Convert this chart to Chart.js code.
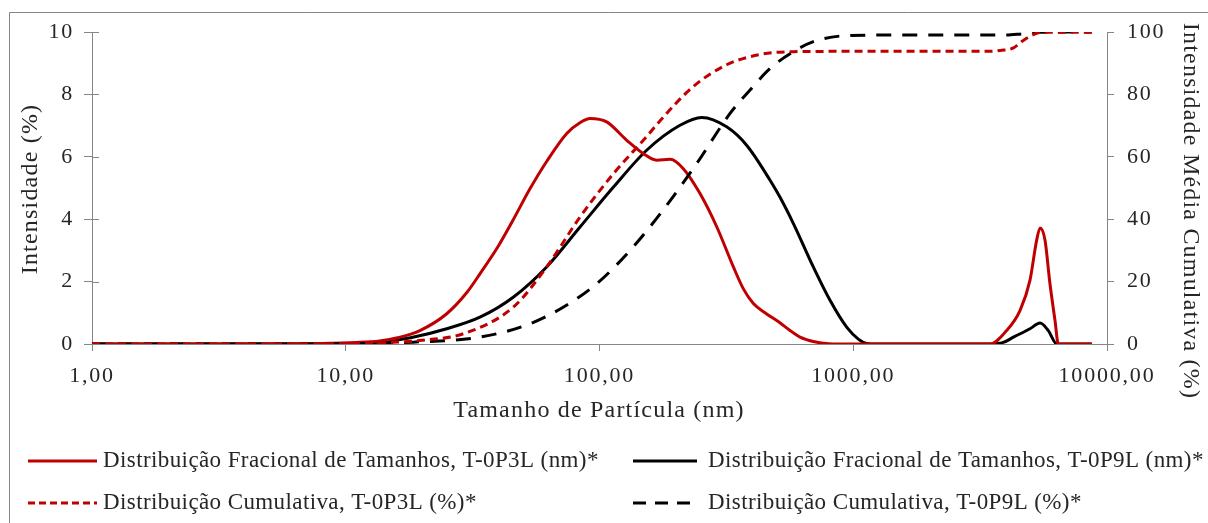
<!DOCTYPE html>
<html>
<head>
<meta charset="utf-8">
<script src="https://cdn.jsdelivr.net/npm/chart.js@4.4.1/dist/chart.umd.min.js"></script>
<style>
  html, body { margin: 0; padding: 0; background: #fff; }
  #wrap { position: relative; width: 1208px; height: 523px; }
  canvas { display: block; }
</style>
</head>
<body>
<div id="wrap"><canvas id="c" width="1208" height="523"></canvas></div>
<script>
// Particle size axis ticks and value axis ticks
const xTickValues = [1, 10, 100, 1000, 10000];
const xTickLabels = ['1,00', '10,00', '100,00', '1000,00', '10000,00'];
const leftTicks = [0, 2, 4, 6, 8, 10];
const rightTicks = [0, 20, 40, 60, 80, 100];

// T-0P3L fractional distribution (%)
const p3lFracSize  = [1, 3, 8, 11, 13.6, 16, 19.6, 25, 30, 33.8, 40, 45.7, 53, 61.9, 74.3, 84, 91.8, 106.7, 128, 149, 168, 190, 214, 249, 290, 337, 370, 404, 453, 514, 560, 617, 696, 800, 1000, 3460, 4020, 4540, 4970, 5280, 5450, 5700, 5960, 6240, 6430, 8710];
const p3lFracValue = [0, 0, 0.02, 0.05, 0.1, 0.2, 0.43, 0.97, 1.65, 2.25, 3.15, 3.98, 4.95, 5.85, 6.75, 7.1, 7.23, 7.12, 6.53, 6.1, 5.89, 5.92, 5.62, 4.82, 3.75, 2.47, 1.75, 1.3, 0.98, 0.68, 0.45, 0.22, 0.08, 0.01, 0, 0, 0.43, 1.07, 2.04, 3.32, 3.72, 3.32, 1.93, 0.75, 0, 0];

// T-0P9L fractional distribution (%)
const p9lFracSize  = [1, 3, 8, 11, 13.6, 18, 25, 33.8, 45.7, 61.9, 83.8, 113.5, 153.4, 207.6, 253, 317, 380, 470, 514, 581, 696, 810, 942, 1050, 1129, 1250, 3460, 3900, 4280, 4970, 5450, 5870, 6340, 8710];
const p9lFracValue = [0, 0, 0.01, 0.02, 0.06, 0.2, 0.49, 0.86, 1.5, 2.47, 3.75, 5.03, 6.21, 7.01, 7.26, 6.96, 6.37, 5.25, 4.71, 3.86, 2.47, 1.4, 0.54, 0.15, 0.02, 0, 0, 0.05, 0.22, 0.49, 0.67, 0.43, 0, 0];

// T-0P3L cumulative distribution (%)
const p3lCumSize  = [1, 5, 10, 15, 20, 29.1, 45.7, 61.9, 83.8, 113.5, 153, 173, 234, 317, 430, 581, 1000, 3460, 3800, 4280, 4600, 5280, 5700, 8710];
const p3lCumValue = [0, 0, 0.1, 0.5, 1.2, 3.3, 11.8, 24.7, 40.7, 54.6, 66.4, 71.5, 82.5, 89.5, 92.8, 93.7, 93.8, 93.8, 94.1, 94.9, 96.9, 99.6, 99.9, 99.9];

// T-0P9L cumulative distribution (%)
const p9lCumSize  = [1, 5, 10, 18.4, 33.8, 53.2, 71.9, 97.4, 132, 178, 241.5, 327, 392, 470, 581, 696, 887, 1200, 3900, 4600, 5300, 8710];
const p9lCumValue = [0, 0, 0.1, 0.6, 2.2, 6.5, 11.8, 19.3, 30, 42.9, 57.8, 73.9, 81.4, 88.3, 93.7, 96.9, 98.7, 99.0, 99.0, 99.4, 99.9, 100];

const seriesNames = [
  'Distribuição Fracional de Tamanhos, T-0P3L (nm)*',
  'Distribuição Fracional de Tamanhos, T-0P9L (nm)*',
  'Distribuição Cumulativa, T-0P3L (%)*',
  'Distribuição Cumulativa, T-0P9L (%)*'
];

const RED = '#C00000';
const BLACK = '#000000';
const AXIS = '#868686';
const TEXT = '#262626';
const SERIF = '"Liberation Serif", "Times New Roman", serif';

const pairs = (xs, ys) => xs.map((x, i) => ({ x: x, y: ys[i] }));

const lineBase = {
  showLine: true,
  pointRadius: 0,
  pointHoverRadius: 0,
  borderWidth: 3,
  cubicInterpolationMode: 'monotone',
  fill: false
};

const datasets = [
  Object.assign({}, lineBase, { label: seriesNames[0], data: pairs(p3lFracSize, p3lFracValue), borderColor: RED, yAxisID: 'y', order: 2 }),
  Object.assign({}, lineBase, { label: seriesNames[1], data: pairs(p9lFracSize, p9lFracValue), borderColor: BLACK, yAxisID: 'y', order: 2 }),
  Object.assign({}, lineBase, { label: seriesNames[2], data: pairs(p3lCumSize, p3lCumValue), borderColor: RED, borderDash: [8, 5], yAxisID: 'y2', order: 1 }),
  Object.assign({}, lineBase, { label: seriesNames[3], data: pairs(p9lCumSize, p9lCumValue), borderColor: BLACK, borderDash: [15, 11], yAxisID: 'y2', order: 1 })
];

// Wider letter spacing for the tick labels, like the serif text of the figure
const spacing = {
  id: 'spacing',
  beforeDraw(chart) { chart.ctx.letterSpacing = '1.8px'; },
  afterDraw(chart) { chart.ctx.letterSpacing = '0px'; }
};

// Axis titles, legend, frame and inner tick halves
const decorations = {
  id: 'decorations',
  afterDraw(chart) {
    const ctx = chart.ctx;
    const area = chart.chartArea;
    ctx.save();

    // outer frame
    ctx.strokeStyle = AXIS;
    ctx.lineWidth = 1;
    ctx.beginPath();
    ctx.moveTo(9.5, 523);
    ctx.lineTo(9.5, 12.5);
    ctx.lineTo(1208, 12.5);
    ctx.stroke();

    // inner half of the left value ticks
    const yScale = chart.scales.y;
    ctx.beginPath();
    leftTicks.forEach(v => {
      const py = Math.round(yScale.getPixelForValue(v)) + 0.5;
      ctx.moveTo(area.left, py);
      ctx.lineTo(area.left + 7, py);
    });
    ctx.stroke();

    ctx.fillStyle = TEXT;
    ctx.font = '24px ' + SERIF;
    ctx.letterSpacing = '1.2px';
    ctx.textAlign = 'center';
    ctx.textBaseline = 'middle';
    // x axis title
    ctx.fillText('Tamanho de Partícula (nm)', 599, 411);

    // left axis title
    ctx.save();
    ctx.translate(31, 189);
    ctx.rotate(-Math.PI / 2);
    ctx.fillText('Intensidade (%)', 0, 0);
    ctx.restore();

    // right axis title
    ctx.save();
    ctx.translate(1190, 211);
    ctx.rotate(Math.PI / 2);
    ctx.fillText('Intensidade Média Cumulativa (%)', 0, 0);
    ctx.restore();

    // legend
    const items = [
      { ds: 0, x0: 28, x1: 97, tx: 103, y: 461 },
      { ds: 1, x0: 633, x1: 697, tx: 708, y: 461 },
      { ds: 2, x0: 28, x1: 97, tx: 103, y: 503 },
      { ds: 3, x0: 633, x1: 697, tx: 708, y: 503 }
    ];
    ctx.font = '23px ' + SERIF;
    ctx.letterSpacing = '0.4px';
    ctx.textAlign = 'left';
    items.forEach(it => {
      const ds = chart.data.datasets[it.ds];
      ctx.strokeStyle = ds.borderColor;
      ctx.lineWidth = 3;
      const dash = ds.borderDash ? (ds.borderColor === RED ? [7, 4] : [13, 9]) : [];
      ctx.setLineDash(dash);
      ctx.beginPath();
      ctx.moveTo(it.x0, it.y);
      ctx.lineTo(it.x1, it.y);
      ctx.stroke();
      ctx.setLineDash([]);
      ctx.fillStyle = TEXT;
      ctx.fillText(ds.label, it.tx, it.y);
    });
    ctx.restore();
  }
};

new Chart(document.getElementById('c'), {
  type: 'scatter',
  data: { datasets: datasets },
  options: {
    responsive: false,
    animation: false,
    layout: { padding: { top: 32, left: 0, right: 0, bottom: 0 } },
    plugins: { legend: { display: false }, tooltip: { enabled: false } },
    scales: {
      x: {
        type: 'logarithmic',
        min: 1,
        max: 10000,
        afterBuildTicks(scale) { scale.ticks = xTickValues.map(v => ({ value: v })); },
        afterFit(scale) { scale.height = 179; },
        ticks: {
          autoSkip: false,
          maxRotation: 0,
          padding: 12,
          color: TEXT,
          font: { family: SERIF, size: 22 },
          callback: (v) => xTickLabels[xTickValues.indexOf(v)]
        },
        grid: { drawOnChartArea: false, color: AXIS, tickLength: 7, tickColor: AXIS },
        border: { color: AXIS, width: 1 }
      },
      y: {
        position: 'left',
        min: 0,
        max: 10,
        afterBuildTicks(scale) { scale.ticks = leftTicks.map(v => ({ value: v })); },
        afterFit(scale) { scale.width = 92; },
        ticks: { padding: 10, color: TEXT, font: { family: SERIF, size: 22 } },
        grid: { drawOnChartArea: false, color: AXIS, tickLength: 8, tickColor: AXIS },
        border: { color: AXIS, width: 1 }
      },
      y2: {
        position: 'right',
        min: 0,
        max: 100,
        afterBuildTicks(scale) { scale.ticks = rightTicks.map(v => ({ value: v })); },
        afterFit(scale) { scale.width = 101; },
        ticks: { padding: 13, color: TEXT, font: { family: SERIF, size: 22 } },
        grid: { drawOnChartArea: false, color: AXIS, tickLength: 7, tickColor: AXIS },
        border: { color: AXIS, width: 1 }
      }
    }
  },
  plugins: [spacing, decorations]
});
</script>
</body>
</html>
